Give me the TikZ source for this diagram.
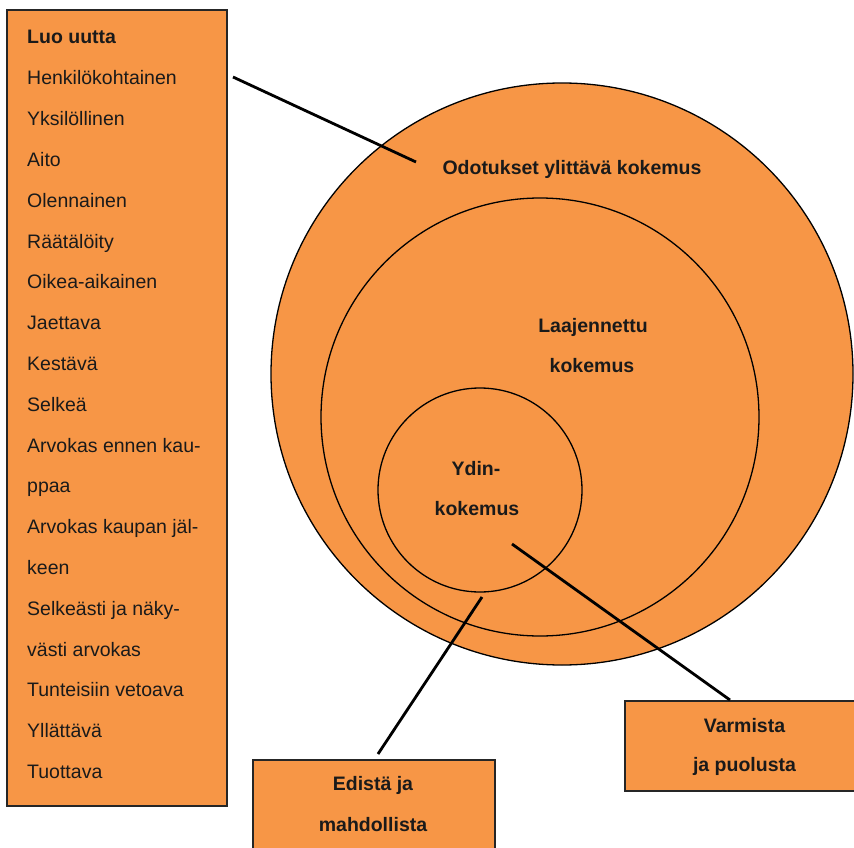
\documentclass[tikz,border=0pt]{standalone}
\usepackage{fontspec}
\setmainfont{Liberation Sans}
\definecolor{orangefill}{HTML}{F79646}
\definecolor{inkc}{HTML}{1A1A1A}
\begin{document}
\begin{tikzpicture}[x=1pt,y=-1pt,
  txt/.style={font=\fontsize{19.5}{23}\selectfont, inner sep=0pt, text=inkc},
  bt/.style={font=\fontsize{19.5}{23}\selectfont\bfseries, inner sep=0pt, text=inkc},
  ring/.style={draw=black, line width=1.3pt},
  boxshape/.style={draw=black!85, line width=1.3pt, fill=orangefill},
  link/.style={draw=black, line width=2.8pt}]
\useasboundingbox (0,0) rectangle (854,848);
\clip (0,0) rectangle (854,848);
% circles
\node[ring, circle, fill=orangefill, minimum size=582pt, inner sep=0pt] (outer) at (562,374) {};
\node[ring, circle, minimum size=438pt, inner sep=0pt] (middle) at (540,417) {};
\node[ring, circle, minimum size=204pt, inner sep=0pt] (core) at (480,490) {};
% boxes
\draw[boxshape] (7,10) rectangle (227,806);
\node[inner sep=0pt, minimum width=220pt, minimum height=796pt] (listbox) at (117,408) {};
\draw[boxshape] (253,760) rectangle (495,880);
\node[inner sep=0pt, minimum width=242pt, minimum height=88pt] (edbox) at (374,804) {};
\draw[boxshape] (625,701) rectangle (880,791);
\node[inner sep=0pt, minimum width=229pt, minimum height=90pt] (vabox) at (739.5,746) {};
% list texts
\node[bt, anchor=base west] (l0) at (27,44) {Luo uutta};
\foreach \t [count=\i] in {Henkilökohtainen,Yksilöllinen,Aito,Olennainen,Räätälöity,Oikea-aikainen,Jaettava,Kestävä,Selkeä,Arvokas ennen kau-,ppaa,Arvokas kaupan jäl-,keen,Selkeästi ja näky-,västi arvokas,Tunteisiin vetoava,Yllättävä,Tuottava}
  \node[txt, anchor=base west] (l\i) at (27,{44+40.8*\i}) {\t};
% circle labels
\node[bt, anchor=base] (outerlabel) at (572,175) {Odotukset ylittävä kokemus};
\node[bt, anchor=base] (midlabelA) at (593,332) {Laajennettu};
\node[bt, anchor=base] (midlabelB) at (592,372) {kokemus};
\node[bt, anchor=base] (corelabelA) at (476,475) {Ydin-};
\node[bt, anchor=base] (corelabelB) at (477,515) {kokemus};
% box labels
\node[bt, anchor=base] (edA) at (373,790) {Edistä ja};
\node[bt, anchor=base] (edB) at (373,831) {mahdollista};
\node[bt, anchor=base] (vaA) at (744.5,732) {Varmista};
\node[bt, anchor=base] (vaB) at (744.5,771) {ja puolusta};
% connectors
\coordinate (c1a) at (233,77);
\coordinate (c1b) at (416,162);
\coordinate (c2a) at (482,597);
\coordinate (c2b) at (378,754);
\coordinate (c3a) at (512,544);
\coordinate (c3b) at (730,700);
\draw[link] (c1a) -- (c1b);
\draw[link] (c2a) -- (c2b);
\draw[link] (c3a) -- (c3b);
\end{tikzpicture}
\end{document}
